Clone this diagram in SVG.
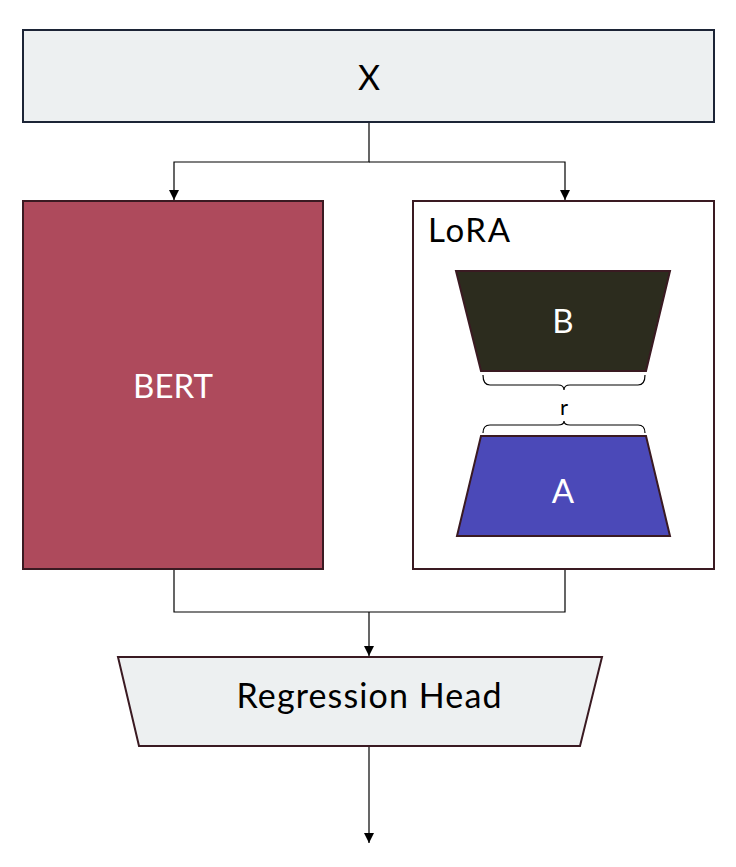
<svg xmlns="http://www.w3.org/2000/svg" width="736" height="867" viewBox="0 0 736 867">
<style>
.lbl{font-family:Lato,"Noto Sans","Liberation Sans",sans-serif;font-weight:400;text-anchor:middle;dominant-baseline:central}
.conn{fill:none;stroke:#000;stroke-width:1.2}
.brace{fill:none;stroke:#000;stroke-width:1.2}
</style>
<defs>
<marker id="arr" viewBox="0 0 10 10" refX="10" refY="5" markerWidth="10" markerHeight="10" markerUnits="userSpaceOnUse" orient="auto">
<path d="M0,0 L10,5 L0,10 Z" fill="#000"/>
</marker>
</defs>
<rect width="736" height="867" fill="#fff"/>
<g id="connectors">
<path class="conn" d="M369,122 V162 H174 V200" marker-end="url(#arr)"/>
<path class="conn" d="M369,162 H565 V200" marker-end="url(#arr)"/>
<path class="conn" d="M174,569 V612 H565 V569"/>
<path class="conn" d="M369,612 V656" marker-end="url(#arr)"/>
<path class="conn" d="M369,743 V843" marker-end="url(#arr)"/>
</g>
<g id="node-x">
<rect x="23" y="30" width="691" height="92" fill="#edf0f1" stroke="#1c2436" stroke-width="2"/>
<text class="lbl" x="369" y="76" font-size="34" fill="#000">X</text>
</g>
<g id="node-bert">
<rect x="23" y="201" width="300" height="368" fill="#ae4a5c" stroke="#3a1a22" stroke-width="2"/>
<text class="lbl" x="173" y="385" font-size="33" fill="#fff" textLength="80" lengthAdjust="spacing">BERT</text>
</g>
<g id="node-lora">
<rect x="413" y="201" width="301" height="368" fill="#fff" stroke="#3a1a22" stroke-width="2"/>
<text x="428" y="229" font-size="33" fill="#000" font-family="Lato,'Noto Sans','Liberation Sans',sans-serif" dominant-baseline="central" textLength="82" lengthAdjust="spacing">LoRA</text>
</g>
<g id="node-b">
<polygon points="456,271 670,271 646,371 481,371" fill="#2c2c1e" stroke="#3a1a22" stroke-width="2"/>
<text class="lbl" x="563" y="320" font-size="33" fill="#fff">B</text>
</g>
<g id="brace-r">
<path class="brace" d="M483,375 Q483,385 490,385 H558 Q564,385 564,390 Q564,385 570,385 H638 Q645,385 645,375"/>
<text class="lbl" x="564" y="406" font-size="22" fill="#000">r</text>
<path class="brace" d="M483,433 Q483,425 490,425 H558 Q564,425 564,421 Q564,425 570,425 H638 Q645,425 645,433"/>
</g>
<g id="node-a">
<polygon points="481,436 646,436 670,536 457,536" fill="#4b49b8" stroke="#3a1a22" stroke-width="2"/>
<text class="lbl" x="563" y="490" font-size="33" fill="#fff">A</text>
</g>
<g id="node-head">
<polygon points="118,657 602,657 580,746 139,746" fill="#edf0f1" stroke="#3a1a22" stroke-width="2"/>
<text class="lbl" x="369" y="694" font-size="34" fill="#000" textLength="265" lengthAdjust="spacing">Regression Head</text>
</g>
</svg>
